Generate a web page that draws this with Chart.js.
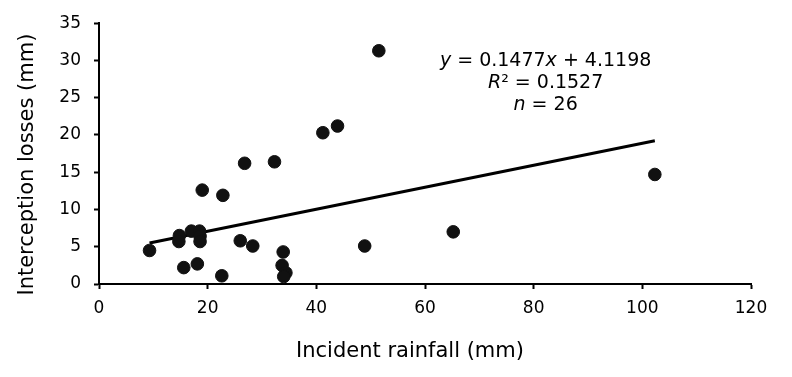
<!DOCTYPE html>
<html>
<head>
<meta charset="utf-8">
<script src="https://cdn.jsdelivr.net/npm/chart.js@4/dist/chart.umd.min.js"></script>
<style>
  html, body { margin: 0; padding: 0; background: #fff; }
  #wrap { width: 792px; height: 377px; }
</style>
</head>
<body>
<div id="wrap"><canvas id="scatterChart" width="792" height="377"></canvas></div>
<script>
const rainfall = [9.3, 14.8, 14.7, 15.6, 17.0, 18.5, 18.6, 18.6, 18.1, 19.0, 22.8, 22.6, 26.0,
                  26.8, 28.3, 32.3, 33.7, 33.9, 34.4, 34.0, 41.2, 43.9, 48.9, 51.5, 65.2, 102.3];
const losses = [4.5, 6.5, 5.7, 2.2, 7.1, 7.1, 6.4, 5.7, 2.7, 12.6, 11.9, 1.1, 5.8,
                16.2, 5.1, 16.4, 2.5, 4.3, 1.5, 1.0, 20.3, 21.2, 5.1, 31.3, 7.0, 14.7];

// Linear fit reported on the figure
const slope = 0.1477;
const intercept = 4.1198;

const xTicks = [0, 20, 40, 60, 80, 100, 120];
const yTicks = [0, 5, 10, 15, 20, 25, 30, 35];

const xTitle = 'Incident rainfall (mm)';
const yTitle = 'Interception losses (mm)';

const fontFamily = 'Verdana, "DejaVu Sans", sans-serif';

const points = rainfall.map((x, i) => ({ x: x, y: losses[i] }));
const xMin = Math.min(...rainfall);
const xMax = Math.max(...rainfall);
const trend = [xMin, xMax].map(x => ({ x: x, y: slope * x + intercept }));

// Axis titles and equation text
const labelsPlugin = {
  id: 'labels',
  afterDraw(chart) {
    const ctx = chart.ctx;
    const area = chart.chartArea;
    ctx.save();
    ctx.fillStyle = '#000';
    ctx.textBaseline = 'middle';
    ctx.textAlign = 'center';

    // axis titles (sit a bit left / low of the plot centre, as in the original)
    ctx.font = '21px ' + fontFamily;
    ctx.fillText(xTitle, (area.left + area.right) / 2 - 15, 352);
    ctx.save();
    ctx.translate(28, (area.top + area.bottom) / 2 + 11);
    ctx.rotate(-Math.PI / 2);
    ctx.fillText(yTitle, 0, 0);
    ctx.restore();

    // equation block
    const cx = area.left + (area.right - area.left) * 0.685;
    const y0 = area.top + 38;
    const normal = '19px ' + fontFamily;
    const italic = 'italic 19px ' + fontFamily;
    const lines = [
      [['y', italic], [' = ' + slope + '', normal], ['x', italic], [' + ' + intercept, normal]],
      [['R', italic], ['² = 0.1527', normal]],
      [['n', italic], [' = ' + rainfall.length, normal]]
    ];
    ctx.textAlign = 'left';
    lines.forEach((parts, i) => {
      let w = 0;
      parts.forEach(p => { ctx.font = p[1]; w += ctx.measureText(p[0]).width; });
      let x = cx - w / 2;
      parts.forEach(p => {
        ctx.font = p[1];
        ctx.fillText(p[0], x, y0 + i * 22);
        x += ctx.measureText(p[0]).width;
      });
    });
    ctx.restore();
  }
};

const ctx = document.getElementById('scatterChart').getContext('2d');
const chart = new Chart(ctx, {
  type: 'scatter',
  data: {
    datasets: [
      {
        label: 'Observed',
        data: points,
        backgroundColor: '#111',
        borderColor: '#111',
        pointRadius: 6.3,
        pointHoverRadius: 6.3,
        order: 1
      },
      {
        label: 'Linear fit',
        type: 'line',
        data: trend,
        borderColor: '#000',
        borderWidth: 3,
        pointRadius: 0,
        fill: false,
        order: 2
      }
    ]
  },
  options: {
    responsive: false,
    animation: false,
    layout: { padding: { top: 21, right: 41, left: 0, bottom: 0 } },
    plugins: {
      legend: { display: false },
      tooltip: { enabled: false },
      title: { display: false }
    },
    scales: {
      x: {
        type: 'linear',
        min: 0,
        max: 120,
        afterBuildTicks: scale => { scale.ticks = xTicks.map(v => ({ value: v })); },
        afterFit: scale => { scale.height = 93; },
        grid: { drawOnChartArea: false, drawTicks: true, tickLength: 5, tickWidth: 2, color: '#000' },
        border: { color: '#000', width: 2 },
        ticks: { color: '#000', font: { family: fontFamily, size: 17 }, padding: 9, maxRotation: 0 },
        title: { display: false }
      },
      y: {
        type: 'linear',
        min: 0,
        max: 35,
        afterBuildTicks: scale => { scale.ticks = yTicks.map(v => ({ value: v })); },
        afterFit: scale => { scale.width = 99; },
        grid: { drawOnChartArea: false, drawTicks: true, tickLength: 5, tickWidth: 2, color: '#000' },
        border: { color: '#000', width: 2 },
        ticks: { color: '#000', font: { family: fontFamily, size: 17 }, padding: 13 },
        title: { display: false }
      }
    }
  },
  plugins: [labelsPlugin]
});
</script>
</body>
</html>
